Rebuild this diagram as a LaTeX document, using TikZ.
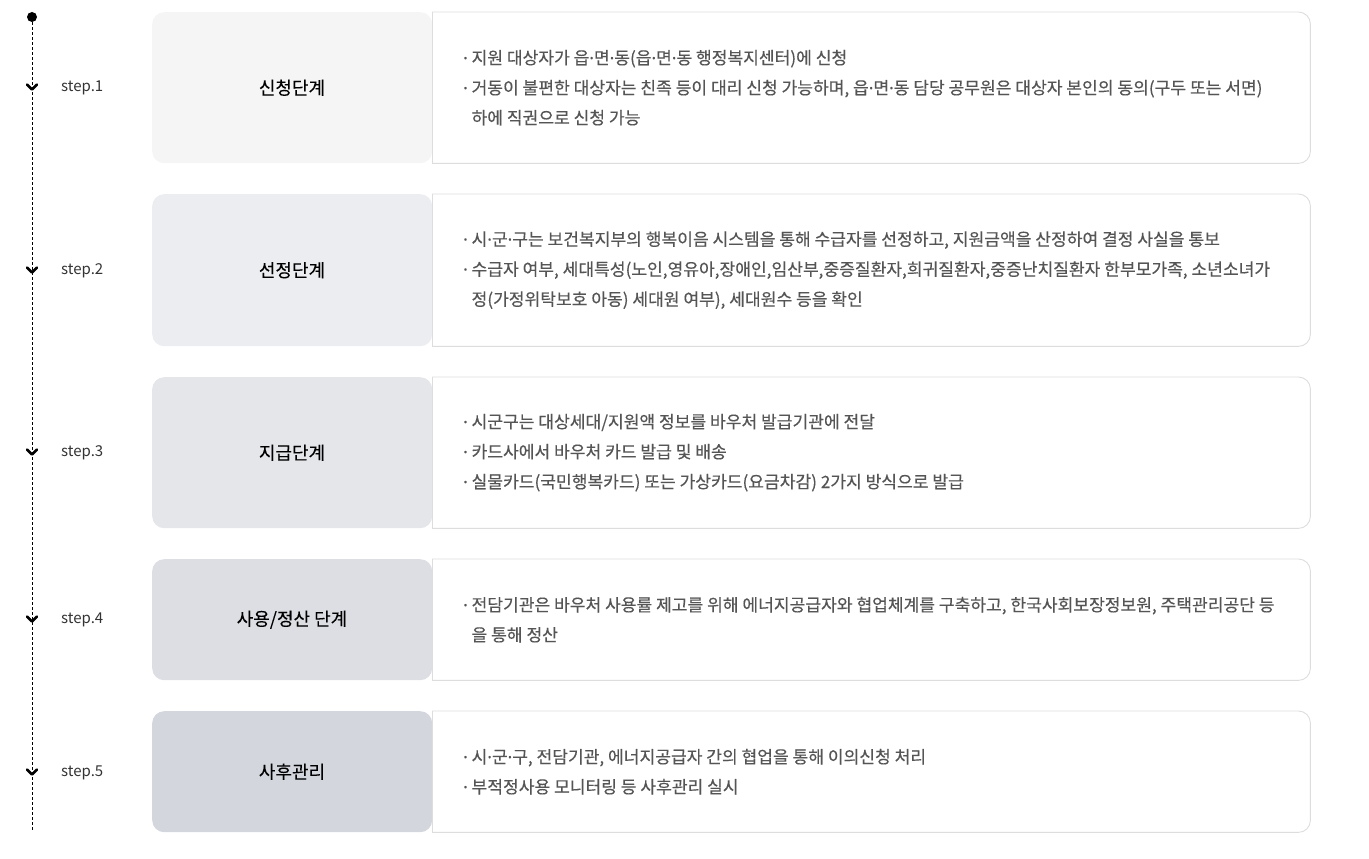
\documentclass[tikz,border=0pt]{standalone}
\usepackage{fontspec}
\setmainfont{Noto Sans CJK KR}
\newfontfamily\bodyfont{Noto Sans CJK KR}[FakeBold=0.35]
\newfontfamily\titlefont{Noto Sans CJK KR}[FakeBold=0.1]
\newfontfamily\dotfont{Noto Sans}[FakeBold=0.35]
\definecolor{cA}{HTML}{F5F5F5}
\definecolor{cB}{HTML}{ECEDF0}
\definecolor{cC}{HTML}{E5E6EA}
\definecolor{cD}{HTML}{DDDEE3}
\definecolor{cE}{HTML}{D3D6DD}
\definecolor{edgecol}{HTML}{DDDDDD}
\definecolor{bodycol}{HTML}{555555}
\definecolor{stepcol}{HTML}{333333}
\tikzset{
  box/.style={rectangle, rounded corners=12pt, inner sep=0pt, fill=white,
    minimum width=1158pt, anchor=north west,
    path picture={\fill[#1] (path picture bounding box.north west) rectangle ([xshift=280pt]path picture bounding box.south west);}},
  edge/.style={draw=edgecol, line width=0.9pt},
  titletext/.style={font=\titlefont\fontsize{18}{20}\selectfont, text=black},
  bodytext/.style={font=\bodyfont\fontsize{17.1}{30}\selectfont, text=bodycol, align=left, anchor=west, inner sep=0pt},
  steplbl/.style={font=\fontsize{15}{16}\selectfont, text=stepcol, anchor=west, inner sep=0pt},
  chev/.style={line width=2.6pt, line cap=round, line join=round},
  tline/.style={dash pattern=on 3pt off 2pt, line width=0.8pt},
}
\newcommand{\md}{{\dotfont ·}}
\newcommand{\bl}{\md\ }
\newcommand{\ind}{\phantom{\md\ }}
\begin{document}
\begin{tikzpicture}[x=1pt,y=1pt]
\useasboundingbox (0,0) rectangle (1369,-859);
% timeline
\node[circle, fill=black, inner sep=0pt, minimum size=10pt] (dot) at (32,-17) {};
\coordinate (tend) at (32,-832);
\draw[tline] (dot) -- (tend);
\foreach \n/\y in {1/87,2/270,3/452,4/619,5/772}{
  \coordinate (s\n) at (32,-\y);
  \draw[chev] ([xshift=-5pt,yshift=2.5pt]s\n) -- ([yshift=-2.5pt]s\n) -- ([xshift=5pt,yshift=2.5pt]s\n);
  \node[steplbl] (l\n) at (61,-\y-1) {step.\n};
}
% boxes
\node[box=cA, minimum height=151pt] (b1) at (152,-12) {};
\node[box=cB, minimum height=152pt] (b2) at (152,-194) {};
\node[box=cC, minimum height=151pt] (b3) at (152,-377) {};
\node[box=cD, minimum height=121pt] (b4) at (152,-559) {};
\node[box=cE, minimum height=121pt] (b5) at (152,-711) {};
\foreach \b in {b1,b2,b3,b4,b5}{
  \draw[edge, rounded corners=12pt] ([xshift=280pt]\b.north west) -- (\b.north east) -- (\b.south east) -- ([xshift=280pt]\b.south west);
  \draw[edge] ([xshift=280pt]\b.north west) -- ([xshift=280pt]\b.south west);
}
% titles
\node[titletext] (t1) at ([xshift=140pt]b1.west) {신청단계};
\node[titletext] (t2) at ([xshift=140pt]b2.west) {선정단계};
\node[titletext] (t3) at ([xshift=140pt]b3.west) {지급단계};
\node[titletext] (t4) at ([xshift=140pt]b4.west) {사용/정산 단계};
\node[titletext] (t5) at ([xshift=140pt]b5.west) {사후관리};
% bodies
\node[bodytext] (d1) at ([xshift=311pt]b1.west) {\bl 지원 대상자가 읍\md 면\md 동(읍\md 면\md 동 행정복지센터)에 신청\\
\bl 거동이 불편한 대상자는 친족 등이 대리 신청 가능하며, 읍\md 면\md 동 담당 공무원은 대상자 본인의 동의(구두 또는 서면)\\
\ind 하에 직권으로 신청 가능};
\node[bodytext] (d2) at ([xshift=311pt]b2.west) {\bl 시\md 군\md 구는 보건복지부의 행복이음 시스템을 통해 수급자를 선정하고, 지원금액을 산정하여 결정 사실을 통보\\
\bl 수급자 여부, 세대특성(노인,영유아,장애인,임산부,중증질환자,희귀질환자,중증난치질환자 한부모가족, 소년소녀가\\
\ind 정(가정위탁보호 아동) 세대원 여부), 세대원수 등을 확인};
\node[bodytext] (d3) at ([xshift=311pt]b3.west) {\bl 시군구는 대상세대/지원액 정보를 바우처 발급기관에 전달\\
\bl 카드사에서 바우처 카드 발급 및 배송\\
\bl 실물카드(국민행복카드) 또는 가상카드(요금차감) 2가지 방식으로 발급};
\node[bodytext] (d4) at ([xshift=311pt]b4.west) {\bl 전담기관은 바우처 사용률 제고를 위해 에너지공급자와 협업체계를 구축하고, 한국사회보장정보원, 주택관리공단 등\\
\ind 을 통해 정산};
\node[bodytext] (d5) at ([xshift=311pt]b5.west) {\bl 시\md 군\md 구, 전담기관, 에너지공급자 간의 협업을 통해 이의신청 처리\\
\bl 부적정사용 모니터링 등 사후관리 실시};
\end{tikzpicture}
\end{document}
